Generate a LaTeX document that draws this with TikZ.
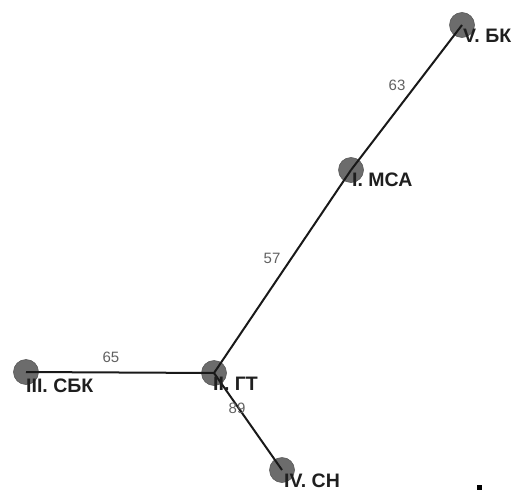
\documentclass[tikz,border=0pt]{standalone}
\usepackage{fontspec}
\setmainfont{Liberation Sans}
\begin{document}
\begin{tikzpicture}[x=1pt,y=-1pt,
  vertex/.style={circle,fill=gray!85!black,draw=gray!70!black,line width=0.6pt,minimum size=25pt,inner sep=0pt},
  link/.style={line width=2pt,black!90},
  weight/.style={font=\fontsize{15}{15}\selectfont,text=black!62,inner sep=0pt},
  tag/.style={font=\bfseries\fontsize{19.5}{19.5}\selectfont,text=black!88,anchor=base west,inner sep=0pt}]
  \useasboundingbox (0,0) rectangle (513,492);
  % vertices
  \node[vertex] (v5) at (462,25) {};
  \node[vertex] (v1) at (351,170) {};
  \node[vertex] (v2) at (214,373) {};
  \node[vertex] (v3) at (26,372) {};
  \node[vertex] (v4) at (282,470) {};
  % edges of the tree
  \draw[link] (v5.center) -- (v1.center);
  \draw[link] (v1.center) -- (v2.center);
  \draw[link] (v3.center) -- (v2.center);
  \draw[link] (v2.center) -- (v4.center);
  % edge weights
  \node[weight] (w63) at (397,85) {63};
  \node[weight] (w57) at (272,258) {57};
  \node[weight] (w65) at (111,357) {65};
  \node[weight] (w89) at (237,408) {89};
  % vertex names
  \node[tag] (t5) at (463,43) {V. БК};
  \node[tag] (t1) at (352,186) {I. МСА};
  \node[tag] (t2) at (213,390) {II. ГТ};
  \node[tag] (t3) at (26,392) {III. СБК};
  \node[tag] (t4) at (284,487) {IV. СН};
  % small marker
  \node[fill=black,minimum size=5pt,inner sep=0pt] (sq) at (479,487) {};
\end{tikzpicture}
\end{document}
